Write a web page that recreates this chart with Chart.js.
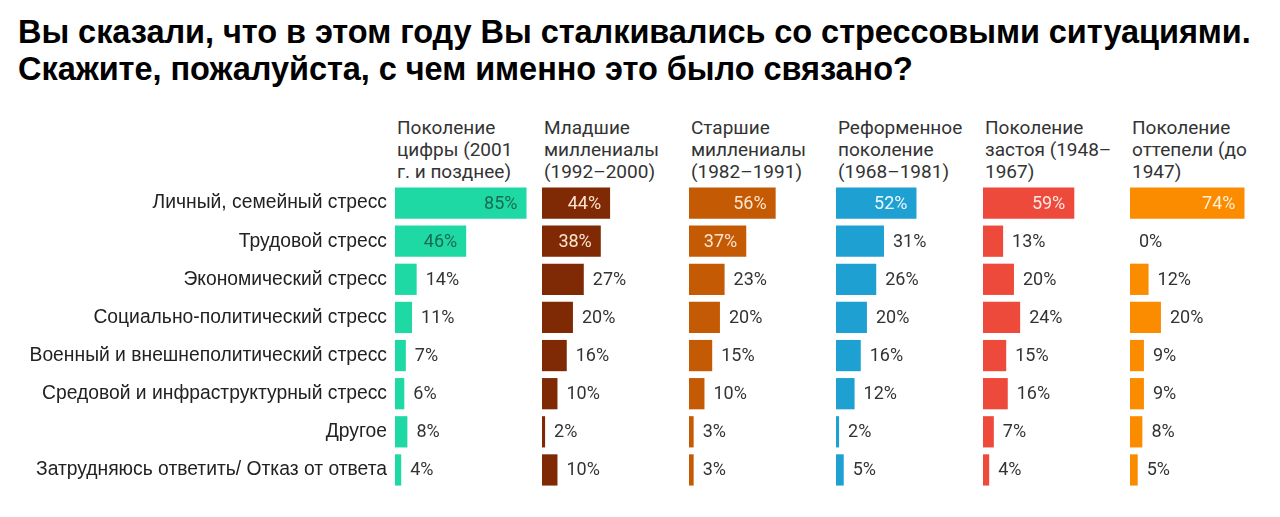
<!DOCTYPE html>
<html>
<head>
<meta charset="utf-8">
<script src="https://cdn.jsdelivr.net/npm/chart.js@4.4.0/dist/chart.umd.min.js"></script>
<style>
  html, body { margin:0; padding:0; background:#fff; }
  body { width:1280px; height:517px; position:relative; overflow:hidden; }
  #title { position:absolute; left:18px; top:14px; font-family:"Liberation Sans", Arial, sans-serif; font-weight:bold; font-size:32.5px; line-height:37px; color:#000; white-space:nowrap; letter-spacing:-0.05px; }
  .hdr { position:absolute; top:117px; font-family:Roboto, sans-serif; font-size:19px; line-height:22px; color:#333; white-space:nowrap; }
  .pane { position:absolute; top:184px; height:305px; }
</style>
</head>
<body>
<div id="title">Вы сказали, что в этом году Вы сталкивались со стрессовыми ситуациями.<br>Скажите, пожалуйста, с чем именно это было связано?</div>
<div id="wrap"></div>
<script>
const categories = [
  "Личный, семейный стресс",
  "Трудовой стресс",
  "Экономический стресс",
  "Социально-политический стресс",
  "Военный и внешнеполитический стресс",
  "Средовой и инфраструктурный стресс",
  "Другое",
  "Затрудняюсь ответить/ Отказ от ответа"
];
const groupHeaders = [
  ["Поколение", "цифры (2001", "г. и позднее)"],
  ["Младшие", "миллениалы", "(1992–2000)"],
  ["Старшие", "миллениалы", "(1982–1991)"],
  ["Реформенное", "поколение", "(1968–1981)"],
  ["Поколение", "застоя (1948–", "1967)"],
  ["Поколение", "оттепели (до", "1947)"]
];
const digitalGen   = [85, 46, 14, 11, 7, 6, 8, 4];
const youngMill    = [44, 38, 27, 20, 16, 10, 2, 10];
const oldMill      = [56, 37, 23, 20, 15, 10, 3, 3];
const reformGen    = [52, 31, 26, 20, 16, 12, 2, 5];
const stagnGen     = [59, 13, 20, 24, 15, 16, 7, 4];
const thawGen      = [74, 0, 12, 20, 9, 9, 8, 5];
const seriesValues = [digitalGen, youngMill, oldMill, reformGen, stagnGen, thawGen];
const barColors    = ["#1ed9a4", "#7f2a04", "#c55a04", "#1ea0d2", "#ee4a3c", "#fb8c00"];
const insideColors = ["#1a6a53", "#fde4cf", "#fde4cf", "#eef8fd", "#fde8e4", "#fff0d8"];
const axisMax = 95;
const insideMin = 35;

const PANEL0 = 395, PANEL_W = 147;

const valueLabels = {
  id: 'valueLabels',
  afterDatasetsDraw(chart, args, opts) {
    const ctx = chart.ctx;
    const meta = chart.getDatasetMeta(0);
    const vals = chart.data.datasets[0].data;
    meta.data.forEach((bar, i) => {
      const v = vals[i];
      ctx.save();
      ctx.font = '18px Roboto';
      ctx.textBaseline = 'middle';
      if (v >= insideMin) {
        ctx.textAlign = 'right';
        ctx.fillStyle = opts.insideColor;
        ctx.fillText(v + '%', bar.x - 9, bar.y + 1);
      } else {
        ctx.textAlign = 'left';
        ctx.fillStyle = '#333';
        ctx.fillText(v + '%', bar.x + 9, bar.y + 1);
      }
      ctx.restore();
    });
  }
};

function build() {
  const wrap = document.getElementById('wrap');
  seriesValues.forEach((vals, p) => {
    const left = p === 0 ? 0 : PANEL0 + p * PANEL_W;
    const width = p === 0 ? PANEL0 + PANEL_W : PANEL_W;
    const hdr = document.createElement('div');
    hdr.className = 'hdr';
    hdr.style.left = (PANEL0 + p * PANEL_W + 2) + 'px';
    hdr.innerHTML = groupHeaders[p].join('<br>');
    document.body.appendChild(hdr);

    const div = document.createElement('div');
    div.className = 'pane';
    div.style.left = left + 'px';
    div.style.width = width + 'px';
    const cv = document.createElement('canvas');
    div.appendChild(cv);
    wrap.appendChild(div);

    const yScale = {
      display: p === 0,
      grid: { display: false },
      border: { display: false },
      ticks: {
        color: '#222',
        padding: 0,
        font: { family: 'Liberation Sans', size: 19.3 },
        crossAlign: 'near'
      }
    };
    if (p === 0) yScale.afterFit = (scale) => {
      scale.width = PANEL0;
      scale.paddingTop = 0;
      scale.paddingBottom = 0;
    };

    new Chart(cv, {
      type: 'bar',
      data: {
        labels: categories,
        datasets: [{
          data: vals,
          backgroundColor: barColors[p],
          borderWidth: 0,
          barPercentage: 0.82,
          categoryPercentage: 1
        }]
      },
      options: {
        indexAxis: 'y',
        responsive: true,
        maintainAspectRatio: false,
        animation: false,
        layout: { padding: 0 },
        plugins: {
          legend: { display: false },
          tooltip: { enabled: false },
          title: { display: false },
          valueLabels: { insideColor: insideColors[p] }
        },
        scales: {
          x: { display: false, min: 0, max: axisMax },
          y: yScale
        }
      },
      plugins: [valueLabels]
    });
  });
}
if (document.fonts && document.fonts.load) {
  Promise.all([
    document.fonts.load('18px Roboto'),
    document.fonts.load('19px "Liberation Sans"')
  ]).then(build, build);
} else { build(); }
</script>
</body>
</html>
